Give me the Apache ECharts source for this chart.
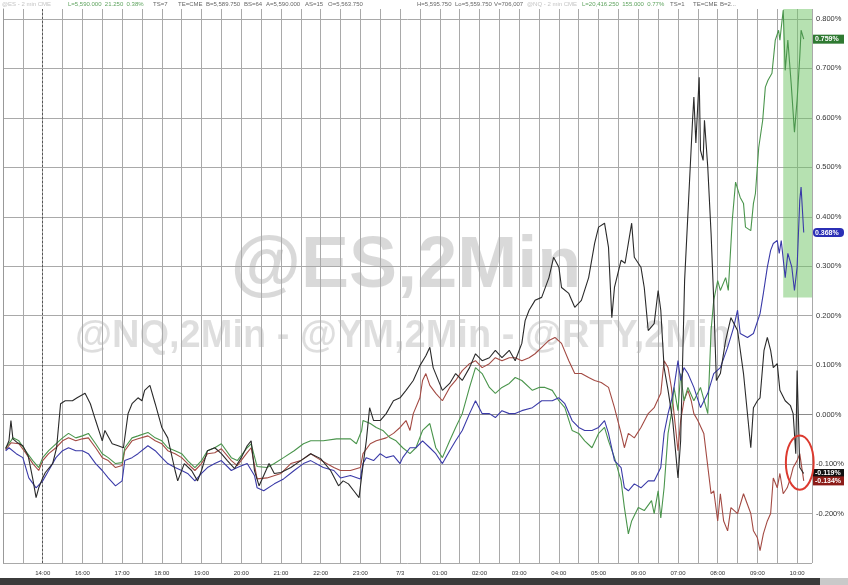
<!DOCTYPE html>
<html><head><meta charset="utf-8">
<script src="https://cdn.jsdelivr.net/npm/echarts@6/dist/echarts.min.js"></script>
<style>html,body{margin:0;padding:0;background:#fff}#c{width:848px;height:585px}</style>
</head><body><div id="c"></div>
<script>
// ---- data: [clock time, % change] ----
const YM = [['13:04',-0.069],['13:09',-0.053],['13:12',-0.012],['13:15',-0.049],['13:22',-0.057],['13:30',-0.063],['13:38',-0.083],['13:45',-0.130],['13:50',-0.168],['13:54',-0.148],['14:00',-0.128],
['15:04',-0.117],['15:15',-0.099],['15:21',-0.067],['15:27',0.022],['15:34',0.028],['15:45',0.028],['15:52',0.034],['16:04',0.043],['16:12',0.022],['16:20',-0.012],['16:30',-0.053],['16:34',-0.032],['16:45',-0.059],['16:54',-0.063],['17:02',-0.067],['17:09',0.002],['17:15',0.022],['17:24',0.034],['17:30',0.028],['17:34',0.049],['17:42',0.059],['17:50',0.022],['18:00',-0.026],['18:09',-0.047],['18:20',-0.113],['18:24',-0.134],['18:34',-0.099],['18:45',-0.113],['18:54',-0.134],['19:00',-0.113],['19:09',-0.073],['19:20',-0.067],['19:30',-0.079],['19:39',-0.093],['19:50',-0.109],['20:00',-0.087],['20:09',-0.063],['20:15',-0.053],['20:20',-0.113],['20:27',-0.144],['20:34',-0.123],['20:42',-0.099],['20:50',-0.119],['21:00',-0.117],['21:15',-0.107],['21:30',-0.093],['21:45',-0.079],['22:00',-0.089],['22:15',-0.113],['22:27',-0.144],['22:34',-0.134],['22:42',-0.140],['22:50',-0.154],['22:58',-0.168],['23:04',-0.103],['23:09',-0.053],['23:14',0.014],['23:20',-0.012],['23:30',-0.012],['23:39',0.002],['23:50',0.028],['00:00',0.034],['00:09',0.049],['00:20',0.069],['00:30',0.099],['00:39',0.119],['00:45',0.136],['00:50',0.095],['01:04',0.049],['01:15',0.063],['01:24',0.083],['01:34',0.069],['01:45',0.095],['01:54',0.123],['02:04',0.109],['02:15',0.115],['02:24',0.130],['02:34',0.115],['02:45',0.130],['02:54',0.109],['03:04',0.144],['03:09',0.190],['03:15',0.211],['03:24',0.231],['03:34',0.237],['03:45',0.277],['03:52',0.318],['04:00',0.298],['04:04',0.257],['04:15',0.245],['04:24',0.217],['04:34',0.231],['04:45',0.277],['04:54',0.346],['05:00',0.379],['05:09',0.387],['05:15',0.338],['05:20',0.196],['05:24',0.257],['05:34',0.312],['05:40',0.306],['05:50',0.387],['05:54',0.318],['06:04',0.298],['06:09',0.257],['06:15',0.170],['06:24',0.184],['06:30',0.251],['06:34',0.211],['06:39',0.095],['06:45',0.049],['06:52',-0.012],['07:00',-0.128],['07:04',-0.053],['07:10',0.271],['07:16',0.433],['07:22',0.595],['07:24',0.642],['07:27',0.549],['07:32',0.682],['07:34',0.534],['07:38',0.514],['07:40',0.595],['07:45',0.500],['07:50',0.366],['07:54',0.231],['07:58',0.069],['08:04',0.083],['08:12',0.150],['08:20',0.196],['08:30',0.170],['08:39',0.083],['08:50',-0.067],['08:54',0.014],['09:00',0.028],['09:04',0.034],['09:10',0.130],['09:15',0.156],['09:20',0.130],['09:24',0.095],['09:30',0.103],['09:34',0.049],['09:42',0.028],['09:50',0.018],['09:54',0.002],['09:58',-0.079],['10:00',0.089],['10:04',-0.107],['10:10',-0.119]];

const NQ = [['13:04',-0.067],['13:12',-0.053],['13:15',-0.047],['13:24',-0.053],['13:34',-0.073],['13:45',-0.093],['13:54',-0.107],['14:00',-0.087],['15:09',-0.073],['15:20',-0.059],['15:30',-0.047],['15:39',-0.038],['15:50',-0.047],['16:00',-0.043],['16:09',-0.038],['16:20',-0.059],['16:30',-0.079],['16:39',-0.087],['16:50',-0.099],['17:00',-0.097],['17:04',-0.067],['17:15',-0.047],['17:24',-0.043],['17:39',-0.036],['17:50',-0.047],['18:00',-0.053],['18:09',-0.067],['18:20',-0.073],['18:30',-0.079],['18:39',-0.093],['18:50',-0.107],['19:00',-0.093],['19:09',-0.073],['19:20',-0.067],['19:30',-0.059],['19:45',-0.087],['19:54',-0.093],['20:09',-0.067],['20:15',-0.059],['20:24',-0.105],['20:39',-0.107],['20:50',-0.099],['21:04',-0.087],['21:20',-0.073],['21:34',-0.059],['21:45',-0.053],['22:04',-0.053],['22:24',-0.049],['22:45',-0.049],['22:54',-0.059],['23:02',-0.032],['23:04',-0.012],['23:15',-0.018],['23:24',-0.026],['23:34',-0.032],['23:45',-0.047],['23:54',-0.053],['00:04',-0.067],['00:15',-0.079],['00:24',-0.067],['00:34',-0.032],['00:45',-0.018],['00:54',-0.067],['01:04',-0.087],['01:15',-0.053],['01:24',-0.026],['01:34',0.002],['01:45',0.055],['01:54',0.095],['02:04',0.083],['02:15',0.055],['02:24',0.043],['02:34',0.055],['02:45',0.063],['02:54',0.075],['03:04',0.069],['03:20',0.049],['03:30',0.055],['03:39',0.055],['03:50',0.049],['04:00',0.028],['04:09',0.014],['04:20',-0.032],['04:30',-0.038],['04:39',-0.053],['04:50',-0.067],['05:00',-0.038],['05:09',-0.026],['05:15',-0.053],['05:24',-0.087],['05:34',-0.134],['05:39',-0.188],['05:45',-0.241],['05:50',-0.215],['06:00',-0.188],['06:09',-0.194],['06:20',-0.174],['06:24',-0.200],['06:30',-0.154],['06:34',-0.209],['06:39',-0.148],['06:45',-0.038],['06:50',0.002],['06:54',0.055],['07:00',0.008],['07:04',0.083],['07:09',0.028],['07:15',0.055],['07:24',0.028],['07:34',0.055],['07:45',0.002],['07:50',0.170],['07:54',0.231],['08:00',0.271],['08:04',0.251],['08:12',0.277],['08:16',0.251],['08:22',0.393],['08:27',0.470],['08:34',0.439],['08:39',0.427],['08:42',0.379],['08:50',0.372],['08:54',0.427],['08:57',0.447],['09:02',0.540],['09:08',0.595],['09:12',0.662],['09:16',0.676],['09:22',0.690],['09:27',0.757],['09:32',0.777],['09:34',0.757],['09:39',0.818],['09:42',0.696],['09:46',0.757],['09:51',0.670],['09:56',0.571],['10:00',0.636],['10:04',0.723],['10:06',0.777],['10:10',0.759]];

const ES = [['13:04',-0.073],['13:09',-0.067],['13:20',-0.079],['13:30',-0.087],['13:39',-0.128],['13:50',-0.148],['14:00',-0.134],['15:09',-0.113],['15:20',-0.087],['15:30',-0.073],['15:39',-0.067],['15:50',-0.073],['16:00',-0.073],['16:09',-0.079],['16:20',-0.099],['16:30',-0.113],['16:39',-0.128],['16:50',-0.144],['17:00',-0.134],['17:04',-0.093],['17:15',-0.087],['17:24',-0.079],['17:39',-0.063],['17:50',-0.073],['18:00',-0.087],['18:09',-0.099],['18:20',-0.107],['18:30',-0.113],['18:39',-0.119],['18:50',-0.134],['19:00',-0.119],['19:09',-0.107],['19:20',-0.099],['19:30',-0.093],['19:45',-0.113],['19:54',-0.107],['20:09',-0.099],['20:20',-0.123],['20:24',-0.148],['20:34',-0.154],['20:50',-0.140],['21:04',-0.130],['21:20',-0.113],['21:34',-0.099],['21:45',-0.093],['22:04',-0.107],['22:20',-0.113],['22:30',-0.128],['22:45',-0.123],['23:00',-0.130],['23:04',-0.099],['23:09',-0.087],['23:20',-0.093],['23:30',-0.079],['23:39',-0.087],['23:50',-0.083],['00:00',-0.099],['00:04',-0.087],['00:15',-0.067],['00:24',-0.067],['00:34',-0.053],['00:45',-0.067],['00:54',-0.079],['01:04',-0.099],['01:15',-0.073],['01:24',-0.053],['01:34',-0.032],['01:45',0.002],['01:54',0.028],['02:04',0.002],['02:15',0.002],['02:24',-0.006],['02:34',0.008],['02:45',0.002],['02:54',0.002],['03:04',0.008],['03:20',0.014],['03:34',0.028],['03:50',0.028],['04:00',0.034],['04:09',0.022],['04:20',-0.012],['04:30',-0.026],['04:39',-0.032],['04:50',-0.032],['05:00',-0.026],['05:09',-0.012],['05:15',-0.038],['05:24',-0.093],['05:34',-0.107],['05:39',-0.148],['05:45',-0.154],['05:54',-0.140],['06:04',-0.148],['06:15',-0.134],['06:24',-0.134],['06:34',-0.107],['06:39',-0.038],['06:45',0.002],['06:50',0.028],['06:54',0.055],['07:00',0.109],['07:04',0.069],['07:09',0.095],['07:15',0.083],['07:24',0.055],['07:34',0.014],['07:45',0.043],['07:54',0.083],['08:04',0.095],['08:15',0.136],['08:24',0.176],['08:30',0.211],['08:34',0.164],['08:45',0.156],['08:54',0.164],['09:04',0.204],['09:09',0.245],['09:15',0.298],['09:20',0.332],['09:24',0.346],['09:30',0.352],['09:33',0.326],['09:36',0.352],['09:42',0.277],['09:46',0.326],['09:52',0.298],['09:56',0.251],['10:00',0.298],['10:04',0.433],['10:06',0.460],['10:10',0.368]];

const RTY = [['13:04',-0.071],['13:12',-0.057],['13:15',-0.053],['13:24',-0.059],['13:34',-0.077],['13:45',-0.099],['13:54',-0.113],['14:00',-0.093],['15:09',-0.079],['15:20',-0.067],['15:30',-0.053],['15:39',-0.047],['15:50',-0.053],['16:00',-0.049],['16:09',-0.047],['16:20',-0.067],['16:30',-0.087],['16:39',-0.093],['16:50',-0.107],['17:00',-0.103],['17:04',-0.073],['17:15',-0.053],['17:24',-0.049],['17:39',-0.043],['17:50',-0.053],['18:00',-0.059],['18:09',-0.073],['18:20',-0.079],['18:30',-0.087],['18:39',-0.099],['18:50',-0.113],['19:00',-0.099],['19:09',-0.079],['19:20',-0.077],['19:30',-0.069],['19:45',-0.093],['19:54',-0.103],['20:09',-0.077],['20:15',-0.067],['20:24',-0.130],['20:39',-0.128],['21:00',-0.119],['21:15',-0.099],['21:30',-0.093],['21:45',-0.079],['21:54',-0.087],['22:09',-0.099],['22:20',-0.107],['22:30',-0.113],['22:45',-0.113],['23:00',-0.107],['23:04',-0.079],['23:15',-0.059],['23:24',-0.053],['23:39',-0.047],['23:50',-0.038],['00:00',-0.026],['00:09',-0.012],['00:15',-0.032],['00:20',0.002],['00:30',0.034],['00:34',0.069],['00:39',0.083],['00:45',0.059],['00:54',0.043],['01:04',0.028],['01:15',0.055],['01:24',0.069],['01:34',0.089],['01:45',0.103],['01:54',0.109],['02:04',0.095],['02:15',0.103],['02:24',0.115],['02:34',0.109],['02:45',0.115],['02:54',0.115],['03:04',0.109],['03:15',0.115],['03:24',0.123],['03:34',0.136],['03:45',0.150],['03:54',0.156],['04:04',0.144],['04:15',0.109],['04:24',0.083],['04:34',0.083],['04:45',0.075],['04:54',0.069],['05:04',0.065],['05:15',0.055],['05:24',0.014],['05:34',-0.038],['05:39',-0.067],['05:45',-0.038],['05:54',-0.047],['06:04',-0.026],['06:15',0.002],['06:24',0.014],['06:34',0.043],['06:39',0.109],['06:45',0.095],['06:50',0.055],['06:54',0.002],['07:00',-0.073],['07:04',-0.012],['07:09',0.028],['07:15',0.049],['07:20',0.028],['07:24',0.002],['07:30',-0.012],['07:39',-0.038],['07:50',-0.160],['07:54',-0.154],['08:00',-0.215],['08:04',-0.160],['08:09',-0.215],['08:15',-0.235],['08:20',-0.188],['08:30',-0.200],['08:39',-0.160],['08:50',-0.200],['08:54',-0.235],['09:00',-0.249],['09:04',-0.275],['09:09',-0.241],['09:15',-0.215],['09:20',-0.200],['09:24',-0.128],['09:30',-0.148],['09:34',-0.119],['09:39',-0.160],['09:45',-0.148],['09:50',-0.128],['09:54',-0.107],['10:00',-0.093],['10:04',-0.079],['10:10',-0.134]];

const xTickTimes  = ['14:00','16:00','17:00','18:00','19:00','20:00','21:00','22:00','23:00','00:00','01:00','02:00','03:00','04:00','05:00','06:00','07:00','08:00','09:00','10:00'];
const xTickLabels = ['14:00','16:00','17:00','18:00','19:00','20:00','21:00','22:00','23:00','7/3','01:00','02:00','03:00','04:00','05:00','06:00','07:00','08:00','09:00','10:00'];
const sessionBreak = '14:00';
const highlightStart = '09:39';
const highlightLow = 0.237;
const circleCenter = ['10:04', -0.097];
const watermarkMain = '@ES,2Min';
const watermarkSub = '@NQ,2Min - @YM,2Min - @RTY,2Min';
const headerTexts = ['@ES - 2 min CME','L=5,590.000  21.250  0.38%','TS=7','TE=CME','B=5,589.750','BS=64','A=5,590.000','AS=15','O=5,563.750','H=5,595.750','Lo=5,559.750','V=706,007','@NQ - 2 min CME','L=20,416.250  155.000  0.77%','TS=1','TE=CME','B=2...'];

// session minutes since 13:00 (7/2), with the 14:00-15:00 halt removed
function sessionMin(t){
  const [h,m] = t.split(':').map(Number);
  let c = h*60 + m - 780; if (c < 0) c += 1440;
  return c > 60 ? c - 60 : c;
}
const X_MAX = 1222.5, Y_MIN = -0.3, Y_MAX = 0.82;
const tickMap = {};
xTickTimes.forEach((t,i)=>{ tickMap[sessionMin(t)] = xTickLabels[i]; });

const defs = [
  {name:'@RTY', data:RTY, color:'#a34a43'},
  {name:'@NQ',  data:NQ,  color:'#4a954c'},
  {name:'@ES',  data:ES,  color:'#3a3aa8'},
  {name:'@YM',  data:YM,  color:'#2a2a2a'}
];

const chart = echarts.init(document.getElementById('c'));
const FONT = '"Liberation Sans", Arial, sans-serif';
const option = {
  animation:false,
  backgroundColor:'#ffffff',
  grid:{left:-3, right:36, top:9, bottom:22},
  xAxis:{type:'value', min:0, max:X_MAX, interval:30,
    axisLine:{show:true, lineStyle:{color:'#8a8a8a'}}, axisTick:{show:false},
    splitLine:{show:true, lineStyle:{color:'#a9a9a9', width:1}},
    axisLabel:{formatter:v=> tickMap[v] || '', fontSize:6, color:'#333', margin:7, fontFamily:FONT, showMaxLabel:false}},
  yAxis:{type:'value', position:'right', min:Y_MIN, max:Y_MAX, interval:0.1, scale:false,
    axisLine:{show:true, lineStyle:{color:'#999'}}, axisTick:{show:false},
    splitLine:{show:true, showMaxLine:false, lineStyle:{color:'#a9a9a9', width:1}},
    axisLabel:{formatter:v=> (Math.abs(v)<1e-9?0:v).toFixed(3)+'%', fontSize:7.5, color:'#333', margin:4, fontFamily:FONT, showMinLabel:false, showMaxLabel:false}},
  series: defs.map((s,i)=>{
    const o = {type:'line', name:s.name, data:s.data.map(p=>[sessionMin(p[0]), p[1]]), symbol:'none', silent:true,
      lineStyle:{color:s.color, width:1.1}, itemStyle:{color:s.color}, z:3+i};
    if (s.name==='@NQ') o.markArea = {silent:true, itemStyle:{color:'rgba(110,195,100,0.5)'},
      data:[[{xAxis:sessionMin(highlightStart), yAxis:highlightLow},{xAxis:X_MAX, yAxis:Y_MAX}]]};
    if (s.name==='@YM') o.markLine = {silent:true, symbol:['none','none'], label:{show:false},
      lineStyle:{color:'#555', type:[2,2], width:1}, data:[{xAxis:sessionMin(sessionBreak)}]};
    return o;
  })
};
chart.setOption(option);

// decorations positioned from the chart's own scales
const px = (t,v)=> chart.convertToPixel({gridIndex:0}, [t, v]);
const headerX = [2,68,153,178,206,244,266,305,328,417,455,494,527,582,670,693,720];
const headerCol = ['#c4c4c4','#5ea35e','#666','#666','#666','#666','#666','#666','#666','#666','#666','#666','#c4c4c4','#5ea35e','#666','#666','#666'];
const g = [];
g.push({type:'text', z:-1, x:406, y:267, style:{text:watermarkMain, fill:'rgba(0,0,0,0.15)', font:'bold 72px '+FONT, textAlign:'center', textVerticalAlign:'middle'}});
g.push({type:'text', z:-1, x:75, y:337, style:{text:watermarkSub, fill:'rgba(0,0,0,0.13)', font:'bold 38px '+FONT, textAlign:'left', textVerticalAlign:'middle'}});
headerTexts.forEach((t,i)=> g.push({type:'text', z:20, x:headerX[i], y:4, style:{text:t, fill:headerCol[i], font:'6px '+FONT, textAlign:'left', textVerticalAlign:'middle'}}));
// value tags on the right axis
const tagDefs = [
  {s:NQ, fill:'#2f7a32', r:0},
  {s:ES, fill:'#2b2fb5', r:4},
  {s:YM, fill:'#111111', r:0},
  {s:RTY, fill:'#8c1c18', r:0}
];
tagDefs.forEach(d=>{
  const last = d.s[d.s.length-1][1];
  const y = px(X_MAX, last)[1];
  g.push({type:'rect', z:20, shape:{x:813, y:y-4.5, width:31, height:9, r:d.r}, style:{fill:d.fill}});
  g.push({type:'text', z:21, x:815, y:y, style:{text:last.toFixed(3)+'%', fill:'#fff', font:'bold 7px '+FONT, textAlign:'left', textVerticalAlign:'middle'}});
});
// circle annotation
const cc = px(sessionMin(circleCenter[0]), circleCenter[1]);
const ce = px(sessionMin(circleCenter[0]) - 21, circleCenter[1] - 0.055);
g.push({type:'ellipse', z:22, shape:{cx:cc[0], cy:cc[1], rx:Math.abs(cc[0]-ce[0]), ry:Math.abs(ce[1]-cc[1])}, style:{fill:'none', stroke:'#dc3a2f', lineWidth:2}});
// bottom scroll bar
g.push({type:'rect', z:20, shape:{x:0, y:578, width:848, height:7}, style:{fill:'#3b3b3b'}});
g.push({type:'rect', z:21, shape:{x:820, y:578, width:28, height:7}, style:{fill:'#c9c9c9'}});
chart.setOption({graphic:{elements:g}});
</script></body></html>
